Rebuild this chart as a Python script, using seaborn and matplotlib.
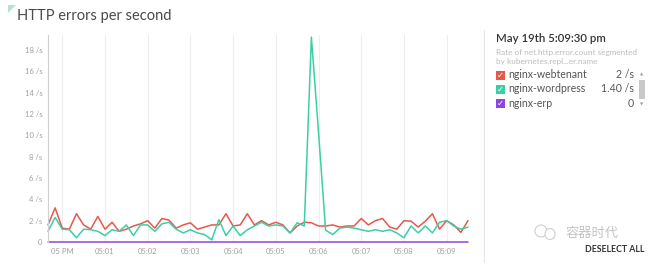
import numpy as np
import pandas as pd
import matplotlib
matplotlib.use("Agg")
import matplotlib.pyplot as plt
import seaborn as sns
from matplotlib.patches import Rectangle, Polygon, Ellipse

# ---------------- data ----------------
series_names = ["nginx-webtenant", "nginx-wordpress", "nginx-erp"]
series_colors = ["#e8574c", "#3ccfa5", "#8e44e0"]

# minutes after 05:00 PM, 10 s steps from 04:59:40 to 05:09:30
minutes = [(-20 + 10 * i) / 60 for i in range(60)]

webtenant = [1.6, 3.2, 1.3, 1.2, 2.65, 1.6, 1.2, 2.4, 1.2, 1.85,
             1.0, 1.2, 1.5, 1.7, 2.0, 1.3, 2.2, 2.05, 1.3, 1.6,
             1.8, 1.2, 1.4, 1.6, 1.6, 2.65, 1.5, 1.6, 2.65, 1.6,
             2.0, 1.6, 1.85, 1.6, 0.85, 1.5, 1.85, 1.8, 1.5, 1.5,
             1.6, 1.4, 1.5, 1.5, 2.2, 1.6, 2.0, 2.2, 1.4, 1.2,
             2.0, 1.95, 1.4, 1.95, 2.65, 1.2, 2.0, 1.6, 0.9, 2.0]
wordpress = [1.0, 2.3, 1.2, 1.15, 0.4, 1.2, 1.15, 1.0, 0.6, 1.15,
             1.0, 1.6, 0.6, 1.6, 1.6, 1.0, 1.7, 1.85, 1.2, 0.85,
             1.15, 0.85, 0.7, 0.2, 2.1, 0.6, 1.5, 0.6, 1.15, 1.5,
             1.85, 1.5, 1.6, 1.5, 0.85, 1.8, 1.5, 19.2, 10.3, 1.1,
             0.7, 1.3, 1.4, 1.3, 1.15, 1.0, 1.15, 1.0, 1.15, 0.85,
             0.4, 1.5, 0.85, 1.5, 0.85, 1.85, 2.0, 1.5, 1.2, 1.4]
erp = [0.0] * 60

y_ticks = [0, 2, 4, 6, 8, 10, 12, 14, 16, 18]
y_labels = ["0", "2 /s", "4 /s", "6 /s", "8 /s", "10 /s", "12 /s", "14 /s", "16 /s", "18 /s"]
x_ticks = [0, 1, 2, 3, 4, 5, 6, 7, 8, 9]
x_labels = ["05 PM", "05:01", "05:02", "05:03", "05:04", "05:05", "05:06", "05:07", "05:08", "05:09"]

legend_values = ["2 /s", "1.40 /s", "0"]
timestamp = "May 19th 5:09:30 pm"
subtitle = ["Rate of net.http.error.count segmented", "by kubernetes.repl...er.name"]
title = "HTTP errors per second"

df = pd.concat([
    pd.DataFrame({"minute": minutes, "value": vals, "series": name})
    for name, vals in zip(series_names, [webtenant, wordpress, erp])
], ignore_index=True)

# ---------------- figure ----------------
sns.set_style("white")
plt.rcParams["font.family"] = ["Lato", "DejaVu Sans"]

W, H = 657, 266
fig = plt.figure(figsize=(W / 100, H / 100), dpi=100)
fig.patch.set_facecolor("white")

def fx(px):
    return px / W

def fy(py):
    return 1 - py / H

ax = fig.add_axes([fx(48), fy(242), fx(468) - fx(48), fy(35) - fy(242)])
sns.lineplot(data=df, x="minute", y="value", hue="series",
             palette=dict(zip(series_names, series_colors)),
             hue_order=series_names, linewidth=1.1, ax=ax, legend=False)
for ln in ax.lines:
    ln.set_clip_on(False)

ax.set_xlim(-20 / 60, 9.5)
ax.set_ylim(0, 19.4)
ax.set_xticks(x_ticks)
ax.set_xticklabels(x_labels)
ax.set_yticks(y_ticks)
ax.set_yticklabels(y_labels)
ax.tick_params(axis="both", length=0, labelsize=5.5, labelcolor="#a0a0a0", pad=4)
ax.set_xlabel("")
ax.set_ylabel("")
ax.xaxis.grid(True, color="#eeeeee", linewidth=0.8)
ax.yaxis.grid(False)
for s in ["top", "right", "bottom"]:
    ax.spines[s].set_visible(False)
ax.spines["left"].set_color("#d0d0d0")
ax.spines["left"].set_linewidth(0.8)

# title + corner triangle
fig.patches.append(Polygon([[fx(8), fy(5)], [fx(16), fy(5)], [fx(8), fy(13)]],
                           closed=True, transform=fig.transFigure,
                           facecolor="#b5e3d4", edgecolor="none"))
fig.text(fx(17), fy(16), title, fontsize=10.5, color="#4a4a4a", va="center", ha="left")

# right panel separator
fig.add_artist(plt.Line2D([fx(484), fx(484)], [fy(30), fy(262)],
                          transform=fig.transFigure, color="#e6e6e6", linewidth=0.8))

fig.text(fx(496), fy(39), timestamp, fontsize=8.2, color="#333333",
         fontweight="semibold", va="center", ha="left")
fig.text(fx(496), fy(52), subtitle[0], fontsize=5.9, color="#bcbcbc", va="center", ha="left")
fig.text(fx(496), fy(62), subtitle[1], fontsize=5.9, color="#bcbcbc", va="center", ha="left")

rows_y = [75, 89, 103]
for name, col, val, yy in zip(series_names, series_colors, legend_values, rows_y):
    fig.patches.append(Rectangle((fx(496), fy(yy + 4.5)), fx(9), (fy(yy - 4.5) - fy(yy + 4.5)),
                                 transform=fig.transFigure, facecolor=col, edgecolor="none"))
    fig.text(fx(500.5), fy(yy), "\u2713", fontsize=6, color="white", ha="center", va="center",
             family=["DejaVu Sans"], fontweight="bold")
    fig.text(fx(508), fy(yy), name, fontsize=7.6, color="#555555", va="center", ha="left")
    fig.text(fx(634), fy(yy), val, fontsize=7.6, color="#555555", va="center", ha="right")

# scrollbar
fig.patches.append(Rectangle((fx(639), fy(99)), fx(6), fy(80) - fy(99),
                             transform=fig.transFigure, facecolor="#c8c8c8", edgecolor="none"))
fig.text(fx(642), fy(74), "\u25b2", fontsize=3, color="#999999", ha="center", va="center",
         family=["DejaVu Sans"])
fig.text(fx(642), fy(104), "\u25bc", fontsize=3, color="#999999", ha="center", va="center",
         family=["DejaVu Sans"])

# watermark
fig.patches.append(Ellipse((fx(541), fy(231)), fx(12), fy(224) - fy(236),
                           transform=fig.transFigure, facecolor="none",
                           edgecolor="#cfcfcf", linewidth=0.8))
fig.patches.append(Ellipse((fx(550), fy(234)), fx(10), fy(228) - fy(239),
                           transform=fig.transFigure, facecolor="white",
                           edgecolor="#cfcfcf", linewidth=0.8))
fig.text(fx(565), fy(233), "容器时代", fontsize=9.5, color="#c4c4c4", va="center", ha="left",
         family=["Noto Sans CJK SC", "DejaVu Sans"])

fig.text(fx(644), fy(250), "DESELECT ALL", fontsize=6.3, color="#333333",
         fontweight="bold", va="center", ha="right")

fig.savefig("out.png", dpi=100)
